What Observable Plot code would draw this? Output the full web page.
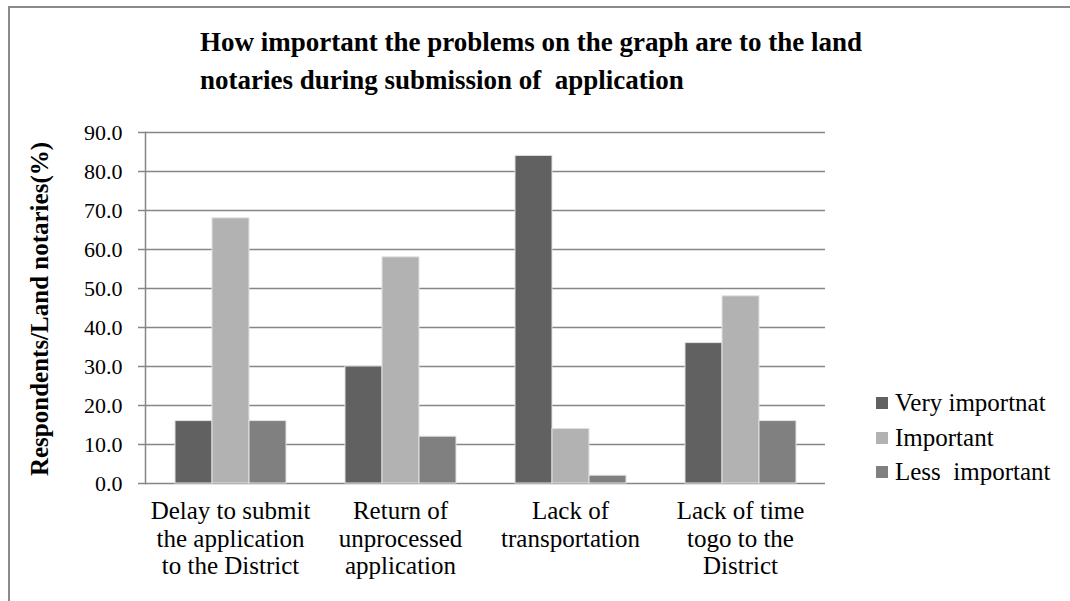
<!DOCTYPE html>
<html>
<head>
<meta charset="utf-8">
<script src="https://cdn.jsdelivr.net/npm/d3@7"></script>
<script src="https://cdn.jsdelivr.net/npm/@observablehq/plot@0.6"></script>
<style>
  html, body { margin: 0; padding: 0; background: #fff; }
  #wrap { position: relative; width: 1070px; height: 601px; overflow: hidden; font-family: "Liberation Serif", "Times New Roman", serif; color: #000; }
  #border { position: absolute; left: 8px; top: 6px; width: 1200px; height: 800px; border-left: 2px solid #8a8a8a; border-top: 2px solid #8a8a8a; }
  #title { position: absolute; left: 200px; top: 23px; font-weight: bold; font-size: 27px; line-height: 38px; white-space: pre; }
  #ylabel { position: absolute; left: 40px; top: 309px; transform: translate(-50%, -50%) rotate(-90deg); font-weight: bold; font-size: 25px; white-space: nowrap; }
  #chart { position: absolute; left: 0; top: 0; }
  #chart svg, #chart svg text { font-family: "Liberation Serif", "Times New Roman", serif !important; }
  .leg { position: absolute; left: 876px; height: 26px; display: flex; align-items: center; font-size: 25px; white-space: pre; }
  .leg span.sw { display: inline-block; width: 12px; height: 12px; margin-right: 7px; }
</style>
</head>
<body>
<div id="wrap">
  <div id="border"></div>
  <div id="chart"></div>
  <div id="title"></div>
  <div id="ylabel"></div>
  <div id="legend"></div>
</div>
<script>
const titleLines = ["How important the problems on the graph are to the land", "notaries during submission of  application"];
const yAxisTitle = "Respondents/Land notaries(%)";
const categories = ["Delay to submit the application to the District", "Return of unprocessed application", "Lack of transportation", "Lack of time togo to the District"];
const categoryLabels = ["Delay to submit\nthe application\nto the District", "Return of\nunprocessed\napplication", "Lack of\ntransportation", "Lack of time\ntogo to the\nDistrict"];
const series = ["Very importnat", "Important", "Less  important"];
const veryImportant = [16, 30, 84, 36];
const important = [68, 58, 14, 48];
const lessImportant = [16, 12, 2, 16];
const seriesColors = ["#616161", "#b2b2b2", "#808080"];
const yTicks = [0, 10, 20, 30, 40, 50, 60, 70, 80, 90];

const seriesValues = [veryImportant, important, lessImportant];
const table = categories.flatMap((c, i) => series.map((s, j) => ({category: c, series: s, value: seriesValues[j][i]})));
const labelMap = new Map(categories.map((c, i) => [c, categoryLabels[i]]));

document.getElementById("title").textContent = titleLines.join("\n");
document.getElementById("ylabel").textContent = yAxisTitle;

const legendTops = [390, 425, 459];
const legend = document.getElementById("legend");
series.forEach((s, j) => {
  const d = document.createElement("div");
  d.className = "leg";
  d.style.top = legendTops[j] + "px";
  const sw = document.createElement("span");
  sw.className = "sw";
  sw.style.background = seriesColors[j];
  const t = document.createElement("span");
  t.textContent = s;
  d.appendChild(sw); d.appendChild(t);
  legend.appendChild(d);
});

const chart = Plot.plot({
  width: 1070,
  height: 601,
  marginLeft: 145,
  marginRight: 245,
  marginTop: 132,
  marginBottom: 118,
  style: {fontFamily: "'Liberation Serif', 'Times New Roman', serif", background: "transparent", color: "#000"},
  fx: {domain: categories, padding: 0, label: null},
  x: {domain: series, paddingInner: 0, paddingOuter: 0.76, axis: null},
  y: {domain: [0, 90], label: null},
  color: {domain: series, range: seriesColors},
  marks: [
    Plot.gridY(yTicks, {stroke: "#868686", strokeOpacity: 1, strokeWidth: 1.5}),
    Plot.barY(table, {fx: "category", x: "series", y: "value", fill: "series", stroke: "#e2e2e2", strokeWidth: 1}),
    Plot.frame({anchor: "left", facetAnchor: "left", stroke: "#868686", strokeWidth: 1.5}),
    Plot.axisY({ticks: yTicks, tickFormat: d => d.toFixed(1), tickSize: 7, tickPadding: 16, fontSize: 22, stroke: "#868686", strokeWidth: 1.5, label: null}),
    Plot.axisFx({anchor: "bottom", tickSize: 0, tickPadding: 16, fontSize: 25, lineHeight: 1.1, tickFormat: d => labelMap.get(d), label: null})
  ]
});
document.getElementById("chart").appendChild(chart);
</script>
</body>
</html>
